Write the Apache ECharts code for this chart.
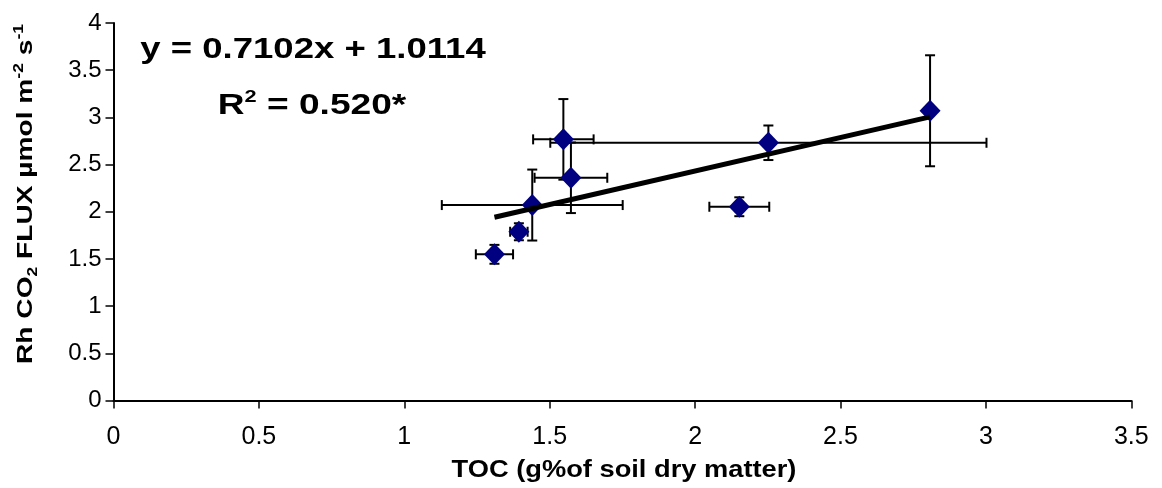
<!DOCTYPE html>
<html>
<head>
<meta charset="utf-8">
<script src="https://cdn.jsdelivr.net/npm/echarts@6/dist/echarts.min.js"></script>
<style>
  html, body { margin: 0; padding: 0; background: #ffffff; }
  #chart { width: 1162px; height: 488px; }
</style>
</head>
<body>
<div id="chart"></div>
<script>
// Mean total organic carbon (g% of soil dry matter) per plot
const tocMean  = [1.547, 1.573, 2.252, 2.808, 2.152, 1.440, 1.394, 1.310];
// Mean heterotrophic CO2 flux (µmol m-2 s-1) per plot
const fluxMean = [2.767, 2.360, 2.731, 3.070, 2.053, 2.071, 1.788, 1.549];
// Error bar half-widths (x: TOC, y: flux)
const tocErr   = [0.104, 0.125, 0.750, 0.000, 0.103, 0.311, 0.030, 0.064];
const fluxErr  = [0.427, 0.374, 0.183, 0.588, 0.100, 0.376, 0.090, 0.100];

// Linear fit reported on the chart
const slope = 0.7102;
const intercept = 1.0114;
const rSquared = '0.520*';

// Axis ranges / tick steps
const xRange = [0, 3.5], xStep = 0.5;
const yRange = [0, 4],   yStep = 0.5;

const FONT = '"Liberation Sans", Arial, sans-serif';

const points = tocMean.map((x, i) => [x, fluxMean[i]]);
const errRows = tocMean.map((x, i) => [x, fluxMean[i], tocErr[i], fluxErr[i]]);

const xMin = Math.min(...tocMean), xMax = Math.max(...tocMean);
const fitLine = [[xMin, slope * xMin + intercept], [xMax, slope * xMax + intercept]];

function renderErrorBar(params, api) {
  const x = api.value(0), y = api.value(1), ex = api.value(2), ey = api.value(3);
  const cap = 5;
  const style = { stroke: '#000000', lineWidth: 2, fill: null };
  const kids = [];
  const seg = (x1, y1, x2, y2) => kids.push({ type: 'line', shape: { x1, y1, x2, y2 }, style });
  if (ex > 0) {
    const l = api.coord([x - ex, y]), r = api.coord([x + ex, y]);
    seg(l[0], l[1], r[0], r[1]);
    seg(l[0], l[1] - cap, l[0], l[1] + cap);
    seg(r[0], r[1] - cap, r[0], r[1] + cap);
  }
  if (ey > 0) {
    const t = api.coord([x, y + ey]), b = api.coord([x, y - ey]);
    seg(t[0], t[1], b[0], b[1]);
    seg(t[0] - cap, t[1], t[0] + cap, t[1]);
    seg(b[0] - cap, b[1], b[0] + cap, b[1]);
  }
  return { type: 'group', children: kids };
}

const chart = echarts.init(document.getElementById('chart'), null, { renderer: 'canvas' });

chart.setOption({
  animation: false,
  backgroundColor: '#ffffff',
  grid: { left: 113.5, right: 30.7, top: 23, bottom: 87.5, containLabel: false },
  xAxis: {
    type: 'value',
    min: xRange[0], max: xRange[1], interval: xStep,
    axisLine: { show: true, onZero: false, lineStyle: { color: '#000000', width: 2 } },
    axisTick: { show: true, inside: false, length: 8, lineStyle: { color: '#000000', width: 1.5 } },
    axisLabel: { show: true, margin: 24, color: '#000000', fontFamily: FONT, fontSize: 25 },
    splitLine: { show: false }
  },
  yAxis: {
    type: 'value',
    min: yRange[0], max: yRange[1], interval: yStep,
    axisLine: { show: true, onZero: false, lineStyle: { color: '#000000', width: 2 } },
    axisTick: { show: true, inside: false, length: 8, lineStyle: { color: '#000000', width: 1.5 } },
    axisLabel: { show: true, margin: 12, color: '#000000', fontFamily: FONT, fontSize: 24 },
    splitLine: { show: false }
  },
  series: [
    {
      type: 'custom',
      name: 'error',
      renderItem: renderErrorBar,
      data: errRows,
      encode: { x: 0, y: 1 },
      z: 2,
      silent: true
    },
    {
      type: 'scatter',
      name: 'plots',
      data: points,
      symbol: 'diamond',
      symbolSize: [21, 22],
      itemStyle: { color: '#000080', opacity: 1 },
      z: 3,
      silent: true
    },
    {
      type: 'line',
      name: 'fit',
      data: fitLine,
      showSymbol: false,
      symbol: 'none',
      lineStyle: { color: '#000000', width: 5 },
      z: 4,
      silent: true
    }
  ],
  graphic: [
    {
      type: 'text', x: 313, y: 50, scaleX: 1.26, z: 10,
      style: {
        text: 'y = ' + slope.toFixed(4) + 'x + ' + intercept.toFixed(4),
        font: 'bold 29px ' + FONT, fill: '#000000',
        textAlign: 'center', textVerticalAlign: 'middle'
      }
    },
    {
      type: 'text', x: 312, y: 106, scaleX: 1.28, z: 10,
      style: {
        text: '{b|R}{sup|2}{b| = ' + rSquared + '}',
        fill: '#000000', textAlign: 'center', textVerticalAlign: 'middle',
        rich: {
          b: { font: 'bold 29px ' + FONT, fill: '#000000', lineHeight: 34 },
          sup: { font: 'bold 17px ' + FONT, fill: '#000000', verticalAlign: 'top', lineHeight: 17 }
        }
      }
    },
    {
      type: 'text', x: 624, y: 471, scaleX: 1.16, z: 10,
      style: {
        text: 'TOC (g%of soil dry matter)',
        font: 'bold 23.5px ' + FONT, fill: '#000000',
        textAlign: 'center', textVerticalAlign: 'middle'
      }
    },
    {
      type: 'text', x: 26, y: 194, rotation: Math.PI / 2, scaleX: 1.25, z: 10,
      style: {
        text: '{b|Rh CO}{sub|2}{b| FLUX µmol m}{sup|-2}{b| s}{sup|-1}',
        fill: '#000000', textAlign: 'center', textVerticalAlign: 'middle',
        rich: {
          b: { font: 'bold 22.5px ' + FONT, fill: '#000000', lineHeight: 28 },
          sub: { font: 'bold 14px ' + FONT, fill: '#000000', verticalAlign: 'bottom', lineHeight: 14 },
          sup: { font: 'bold 14px ' + FONT, fill: '#000000', verticalAlign: 'top', lineHeight: 14 }
        }
      }
    }
  ]
});
</script>
</body>
</html>
